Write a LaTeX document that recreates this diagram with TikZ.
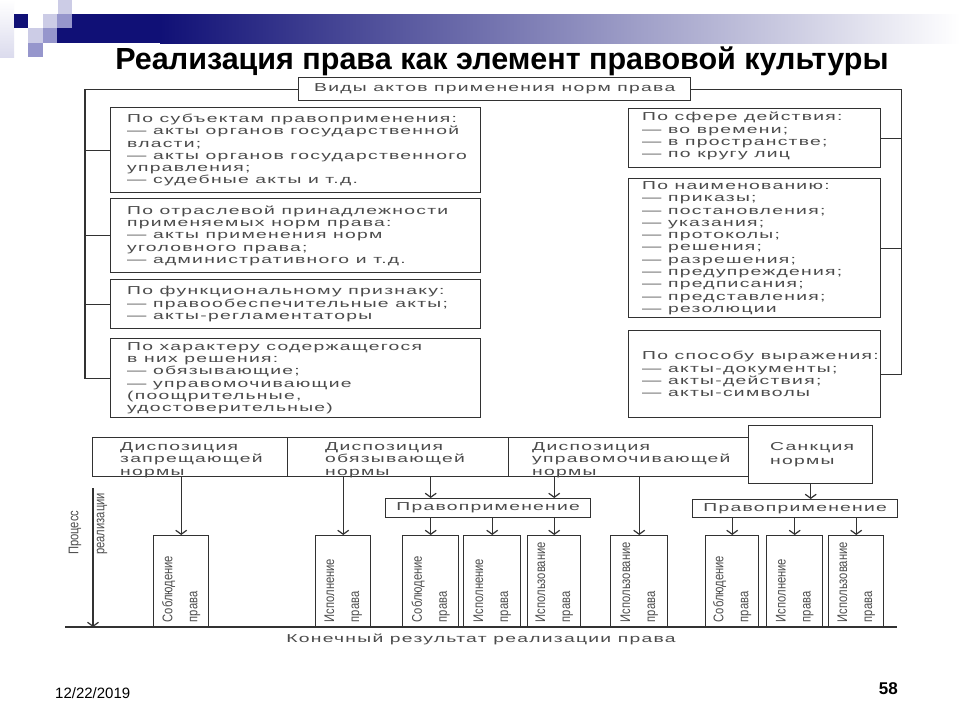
\documentclass[tikz,border=0pt]{standalone}
\usepackage{fontspec}
\setmainfont{Liberation Sans}
\newfontfamily\titlefont{Liberation Sans}
\newfontfamily\diafont[FakeStretch=1.68,LetterSpace=11]{Liberation Sans}
\newfontfamily\narrowfont[FakeStretch=0.8]{Liberation Sans}
\usetikzlibrary{arrows.meta,calc}
\definecolor{navyA}{RGB}{16,16,118}
\definecolor{lavL}{RGB}{204,204,230}
\definecolor{lavM}{RGB}{150,150,204}
\definecolor{lineC}{RGB}{50,50,50}
\definecolor{textC}{RGB}{75,75,75}
\begin{document}
\begin{tikzpicture}[x=1pt,y=-1pt,
  frame/.style={draw=lineC, line width=1.4pt, inner sep=0pt, anchor=north west},
  conn/.style={draw=lineC, line width=1.4pt},
  arr/.style={conn, -{Straight Barb[length=4pt,width=11pt,line width=1.2pt]}},
  dfont/.style={font=\diafont\fontsize{11.5}{12.3}\selectfont, text=textC},
  dtext/.style={dfont, align=left, inner sep=0pt, anchor=west},
  vtext/.style={font=\narrowfont\fontsize{14}{25}\selectfont, text=textC, align=left, inner sep=0pt, rotate=90, anchor=west}]
\fill[white] (0,0) rectangle (960,720);
\useasboundingbox (0,0) rectangle (960,720);
% decoration
\shade[top color=white, bottom color=lavL!70] (0,0) rectangle (14,57);
\fill[navyA] (43,14) rectangle (160,43);
\shade[left color=navyA, right color=white] (160,14) rectangle (960,43);
\fill[lavL] (58,0) rectangle (72,14);
\fill[navyA] (14,14) rectangle (28,28);
\fill[lavL] (43,14) rectangle (57,28);
\fill[lavM] (57,14) rectangle (72,28);
\fill[lavL] (28,28) rectangle (43,43);
\fill[lavM] (43,28) rectangle (57,43);
\fill[lavM] (28,43) rectangle (43,57);
% title and footer
\node[font=\titlefont\bfseries\fontsize{30.5}{32}\selectfont, anchor=base] (title) at (502,69) {Реализация права как элемент правовой культуры};
\node[font=\fontsize{15}{16}\selectfont, anchor=base west, inner sep=0pt] (date) at (55,698) {12/22/2019};
\node[font=\bfseries\fontsize{17}{18}\selectfont, anchor=base east, inner sep=0pt] (num) at (898,694) {58};
% upper scheme
\node[frame, dfont, minimum width=392pt, minimum height=23pt] (top) at (298,77) {Виды актов применения норм права};
\node[frame, minimum width=370pt, minimum height=85pt] (l1) at (110,107) {};
\node[frame, minimum width=370pt, minimum height=74pt] (l2) at (110,198) {};
\node[frame, minimum width=370pt, minimum height=49pt] (l3) at (110,279) {};
\node[frame, minimum width=370pt, minimum height=79pt] (l4) at (110,338) {};
\node[frame, minimum width=252pt, minimum height=59pt] (r1) at (628,108) {};
\node[frame, minimum width=252pt, minimum height=139pt] (r2) at (628,178) {};
\node[frame, minimum width=252pt, minimum height=87pt] (r3) at (628,330) {};
\node[dtext] (l1t) at ($(l1.west)+(17,0)$) {По субъектам правоприменения:\\— акты органов государственной\\власти;\\— акты органов государственного\\управления;\\— судебные акты и т.д.};
\node[dtext] (l2t) at ($(l2.west)+(17,0)$) {По отраслевой принадлежности\\применяемых норм права:\\— акты применения норм\\уголовного права;\\— административного и т.д.};
\node[dtext] (l3t) at ($(l3.west)+(17,0)$) {По функциональному признаку:\\— правообеспечительные акты;\\— акты-регламентаторы};
\node[dtext] (l4t) at ($(l4.west)+(17,0)$) {По характеру содержащегося\\в них решения:\\— обязывающие;\\— управомочивающие\\(поощрительные,\\удостоверительные)};
\node[dtext] (r1t) at ($(r1.west)+(14,-2)$) {По сфере действия:\\— во времени;\\— в пространстве;\\— по кругу лиц};
\node[dtext] (r2t) at ($(r2.west)+(14,0)$) {По наименованию:\\— приказы;\\— постановления;\\— указания;\\— протоколы;\\— решения;\\— разрешения;\\— предупреждения;\\— предписания;\\— представления;\\— резолюции};
\node[dtext] (r3t) at ($(r3.west)+(14,0)$) {По способу выражения:\\— акты-документы;\\— акты-действия;\\— акты-символы};
\draw[conn] (top.west) -| ($(l4.west)+(-25,0)$) -- (l4.west);
\foreach \b in {l1,l2,l3} \draw[conn] (\b.west) -- ++(-25,0);
\draw[conn] (top.east) -| ($(r3.east)+(20,0)$) -- (r3.east);
\foreach \b in {r1,r2} \draw[conn] (\b.east) -- ++(20,0);
% lower scheme
\node[frame, minimum width=195pt, minimum height=39pt] (c1) at (92,437) {};
\node[frame, minimum width=221pt, minimum height=39pt] (c2) at (287,437) {};
\node[frame, minimum width=240pt, minimum height=39pt] (c3) at (508,437) {};
\node[frame, minimum width=124pt, minimum height=58pt] (s) at (748,425) {};
\node[dtext] (c1t) at ($(c1.west)+(28,3)$) {Диспозиция\\запрещающей\\нормы};
\node[dtext] (c2t) at ($(c2.west)+(38,3)$) {Диспозиция\\обязывающей\\нормы};
\node[dtext] (c3t) at ($(c3.west)+(24,3)$) {Диспозиция\\управомочивающей\\нормы};
\node[dtext, font=\diafont\fontsize{11.5}{14}\selectfont] (st) at ($(s.west)+(22,0)$) {Санкция\\нормы};
\node[frame, dfont, minimum width=205pt, minimum height=19pt] (p1) at (385,498) {Правоприменение};
\node[frame, dfont, minimum width=205pt, minimum height=18pt] (p2) at (692,499) {Правоприменение};
\foreach \nm/\xx/\ww/\ta in {b1/153/55/Соблюдение, b2/315/55/Исполнение, b3/402/56/Соблюдение, b4/463/57/Исполнение, b5/527/53/Использование, b6/610/57/Использование, b7/705/53/Соблюдение, b8/766/56/Исполнение, b9/828/55/Использование}{
  \node[frame, minimum width=\ww pt, minimum height=92pt] (\nm) at (\xx,535) {};
  \node[vtext] at ($(\nm.south)+(0,-6)$) {\ta\\права};
}
\coordinate (bl) at (65,627);
\coordinate (br) at (897,627);
\draw[conn] (bl) -- (br);
\coordinate (pt) at (93,488);
\draw[arr] (pt) -- (pt |- bl);
\node[vtext, font=\narrowfont\fontsize{14}{26}\selectfont] (proc) at (88,555) {Процесс\\реализации};
\node[dfont, inner sep=0pt] (res) at (481,639) {Конечный результат реализации права};
% arrows
\draw[arr] (b1.north |- c1.south) -- (b1.north);
\draw[arr] (b2.north |- c2.south) -- (b2.north);
\draw[arr] (b3.north |- c2.south) -- (b3.north |- p1.north);
\draw[arr] (b5.north |- c3.south) -- (b5.north |- p1.north);
\draw[arr] (b6.north |- c3.south) -- (b6.north);
\draw[arr] (s.south) -- (s.south |- p2.north);
\foreach \b in {b3,b4,b5} \draw[arr] (\b.north |- p1.south) -- (\b.north);
\foreach \b in {b7,b8,b9} \draw[arr] (\b.north |- p2.south) -- (\b.north);
\end{tikzpicture}
\end{document}
